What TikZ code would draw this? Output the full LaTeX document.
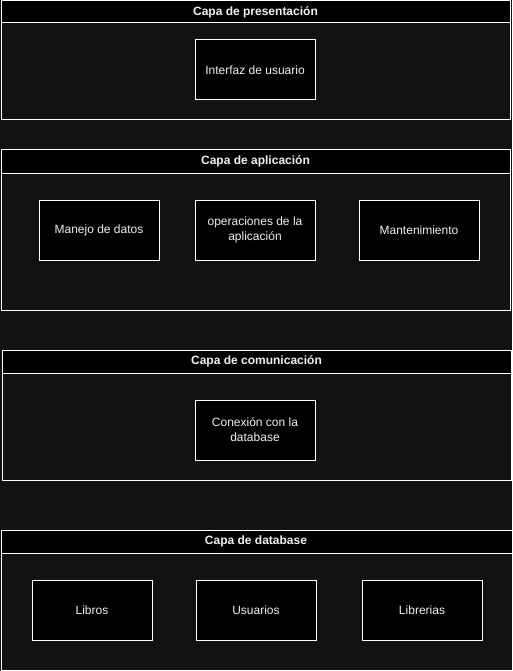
\documentclass[tikz,border=0pt]{standalone}
\usepackage{fontspec}
\setmainfont{Liberation Sans}
\definecolor{bgc}{HTML}{121212}
\definecolor{txt}{HTML}{F0F0F0}
\begin{document}
\begin{tikzpicture}[x=1pt,y=-1pt,
  layer/.style={draw=white,line width=1pt,fill=bgc},
  titlebar/.style={draw=white,line width=1pt,fill=black,text=txt,font=\fontsize{12}{14}\selectfont\bfseries},
  item/.style={draw=white,line width=1pt,fill=black,text=txt,font=\fontsize{12}{14.5}\selectfont,align=center,text width=110pt}]
\fill[bgc] (0,0) rectangle (512,671);
\useasboundingbox (0,0) rectangle (512,671);
% layer 1
\draw[layer] (1,1) rectangle (510,120);
\draw[titlebar] (1,1) rectangle (510,23);
\node[text=txt,font=\fontsize{12}{14}\selectfont\bfseries] (t1) at (255.5,12) {Capa de presentación};
\draw[item] (195,40) rectangle (315,100);
\node[text=txt,font=\fontsize{12}{14.5}\selectfont,align=center] (ui) at (255,70) {Interfaz de usuario};
% layer 2
\draw[layer] (1,150) rectangle (510,310);
\draw[titlebar] (1,150) rectangle (510,173);
\node[text=txt,font=\fontsize{12}{14}\selectfont\bfseries] (t2) at (255.5,161.5) {Capa de aplicación};
\draw[item] (39,200) rectangle (159,260);
\node[text=txt,font=\fontsize{12}{14.5}\selectfont,align=center] (md) at (99,230) {Manejo de datos};
\draw[item] (195,200) rectangle (315,260);
\node[text=txt,font=\fontsize{12}{15}\selectfont,align=center] (op) at (255,230) {operaciones de la\\aplicación};
\draw[item] (359,200) rectangle (479,260);
\node[text=txt,font=\fontsize{12}{14.5}\selectfont,align=center] (mt) at (419,230) {Mantenimiento};
% layer 3
\draw[layer] (2,350) rectangle (511,480);
\draw[titlebar] (2,350) rectangle (511,373);
\node[text=txt,font=\fontsize{12}{14}\selectfont\bfseries] (t3) at (256.5,361.5) {Capa de comunicación};
\draw[item] (195,400) rectangle (315,460);
\node[text=txt,font=\fontsize{12}{15}\selectfont,align=center] (cx) at (255,430) {Conexión con la\\database};
% layer 4
\draw[layer] (1,530) rectangle (512,670);
\draw[titlebar] (1,530) rectangle (512,553);
\node[text=txt,font=\fontsize{12}{14}\selectfont\bfseries] (t4) at (256,541.5) {Capa de database};
\draw[item] (32,580) rectangle (152,640);
\node[text=txt,font=\fontsize{12}{14.5}\selectfont,align=center] (lb) at (92,610) {Libros};
\draw[item] (196,580) rectangle (316,640);
\node[text=txt,font=\fontsize{12}{14.5}\selectfont,align=center] (us) at (256,610) {Usuarios};
\draw[item] (362,580) rectangle (482,640);
\node[text=txt,font=\fontsize{12}{14.5}\selectfont,align=center] (lr) at (422,610) {Librerias};
\end{tikzpicture}
\end{document}
